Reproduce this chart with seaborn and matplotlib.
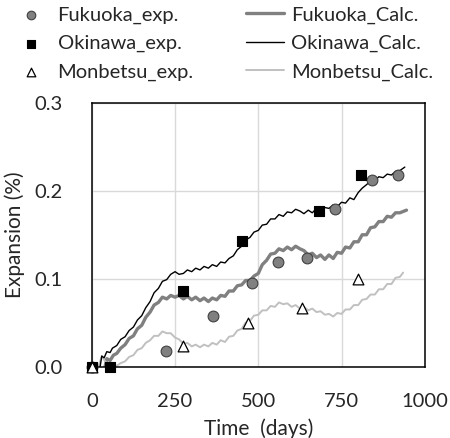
import numpy as np
import matplotlib
matplotlib.use('Agg')
import matplotlib.pyplot as plt
import pandas as pd
import seaborn as sns

# experimental points
fuk_exp_days = [0, 223, 364, 481, 558, 645, 730, 840, 920]
fuk_exp_vals = [0.0, 0.018, 0.058, 0.095, 0.119, 0.124, 0.179, 0.212, 0.218]
oki_exp_days = [0, 55, 273, 452, 683, 808]
oki_exp_vals = [0.0, 0.0, 0.086, 0.143, 0.177, 0.218]
mon_exp_days = [0, 273, 468, 631, 800]
mon_exp_vals = [0.0, 0.024, 0.050, 0.067, 0.100]

# calculated curves (including their wiggle)
oki_calc_days = [25, 30, 37, 45, 55, 62, 75, 87, 100, 112, 125, 137, 150, 162, 175, 187, 200, 212,
                 225, 237, 250, 262, 275, 287, 300, 312, 325, 337, 350, 362, 375, 387, 400, 412,
                 425, 437, 450, 462, 475, 487, 500, 512, 525, 537, 550, 562, 575, 587, 600, 612,
                 625, 637, 650, 662, 675, 687, 700, 712, 725, 737, 750, 762, 775, 787, 800, 812,
                 825, 837, 850, 862, 875, 887, 900, 912, 925, 940]
oki_calc_vals = [0.000, 0.012, 0.010, 0.017, 0.016, 0.021, 0.024, 0.031, 0.034, 0.041, 0.045,
                 0.053, 0.058, 0.067, 0.074, 0.084, 0.089, 0.097, 0.099, 0.105, 0.108, 0.105,
                 0.106, 0.110, 0.108, 0.112, 0.110, 0.114, 0.112, 0.116, 0.114, 0.119, 0.118,
                 0.123, 0.126, 0.133, 0.137, 0.144, 0.147, 0.153, 0.155, 0.161, 0.162, 0.168,
                 0.168, 0.173, 0.171, 0.176, 0.175, 0.179, 0.177, 0.174, 0.178, 0.175, 0.180,
                 0.178, 0.181, 0.180, 0.184, 0.182, 0.187, 0.186, 0.192, 0.190, 0.198, 0.203,
                 0.207, 0.211, 0.212, 0.216, 0.215, 0.219, 0.218, 0.222, 0.223, 0.227]
fuk_calc_days = [40, 45, 55, 65, 75, 87, 100, 112, 125, 137, 150, 162, 175, 187, 200, 212, 225,
                 237, 250, 262, 275, 287, 300, 312, 325, 337, 350, 362, 375, 387, 400, 412, 425,
                 437, 450, 462, 475, 487, 500, 512, 525, 537, 550, 562, 575, 587, 600, 612, 625,
                 637, 650, 662, 675, 687, 700, 712, 725, 737, 750, 762, 775, 787, 800, 812, 825,
                 837, 850, 862, 875, 887, 900, 912, 925, 945]
fuk_calc_vals = [0.000, 0.009, 0.007, 0.013, 0.015, 0.021, 0.025, 0.032, 0.035, 0.043, 0.047,
                 0.056, 0.062, 0.070, 0.073, 0.079, 0.077, 0.081, 0.079, 0.081, 0.077, 0.080,
                 0.076, 0.079, 0.075, 0.078, 0.074, 0.078, 0.076, 0.081, 0.080, 0.086, 0.086,
                 0.092, 0.093, 0.098, 0.098, 0.103, 0.106, 0.116, 0.121, 0.128, 0.129, 0.134,
                 0.132, 0.136, 0.133, 0.137, 0.134, 0.132, 0.127, 0.129, 0.124, 0.127, 0.122,
                 0.127, 0.123, 0.130, 0.129, 0.136, 0.135, 0.142, 0.142, 0.150, 0.150, 0.158,
                 0.159, 0.165, 0.165, 0.171, 0.170, 0.175, 0.175, 0.178]
mon_calc_days = [20, 30, 40, 50, 60, 75, 87, 100, 112, 125, 137, 150, 162, 175, 187, 200, 212,
                 225, 237, 250, 262, 275, 287, 300, 312, 325, 337, 350, 362, 375, 387, 400, 412,
                 425, 437, 450, 462, 475, 487, 500, 512, 525, 537, 550, 562, 575, 587, 600, 612,
                 625, 637, 650, 662, 675, 687, 700, 712, 725, 737, 750, 762, 775, 787, 800, 812,
                 825, 837, 850, 862, 875, 887, 900, 912, 925, 935]
mon_calc_vals = [0.000, 0.012, 0.006, 0.003, 0.000, 0.001, 0.004, 0.006, 0.011, 0.013, 0.019,
                 0.021, 0.027, 0.030, 0.035, 0.035, 0.040, 0.038, 0.038, 0.033, 0.031, 0.026,
                 0.027, 0.023, 0.025, 0.022, 0.025, 0.023, 0.027, 0.025, 0.030, 0.028, 0.034,
                 0.035, 0.041, 0.043, 0.050, 0.052, 0.058, 0.059, 0.064, 0.064, 0.069, 0.068,
                 0.073, 0.071, 0.072, 0.068, 0.070, 0.066, 0.068, 0.064, 0.066, 0.062, 0.063,
                 0.059, 0.060, 0.057, 0.061, 0.060, 0.065, 0.065, 0.070, 0.070, 0.076, 0.077,
                 0.082, 0.082, 0.088, 0.088, 0.094, 0.094, 0.101, 0.102, 0.107]

x_ticks = [0, 250, 500, 750, 1000]
y_ticks = [0.0, 0.1, 0.2, 0.3]
y_ticklabels = ['0.0', '0.1', '0.2', '0.3']

sns.set_style('white')
plt.rcParams['font.family'] = ['Lato', 'DejaVu Sans']

fig = plt.figure(figsize=(4.5, 4.38), dpi=100)
ax = fig.add_axes([0.204, 0.163, 0.74, 0.602])

sns.lineplot(x=fuk_calc_days, y=fuk_calc_vals, ax=ax, color='#808080', linewidth=2.4,
             sort=False, estimator=None, label='Fukuoka_Calc.', zorder=2)
sns.lineplot(x=oki_calc_days, y=oki_calc_vals, ax=ax, color='black', linewidth=1.0,
             sort=False, estimator=None, label='Okinawa_Calc.', zorder=3)
sns.lineplot(x=mon_calc_days, y=mon_calc_vals, ax=ax, color='#c0c0c0', linewidth=1.4,
             sort=False, estimator=None, label='Monbetsu_Calc.', zorder=2)

sns.scatterplot(x=fuk_exp_days, y=fuk_exp_vals, ax=ax, marker='o', s=60, color='#808080',
                edgecolor='#404040', linewidth=0.8, label='Fukuoka_exp.', zorder=4, clip_on=False)
sns.scatterplot(x=oki_exp_days, y=oki_exp_vals, ax=ax, marker='s', s=55, color='black',
                edgecolor='black', linewidth=0.8, label='Okinawa_exp.', zorder=4, clip_on=False)
sns.scatterplot(x=mon_exp_days, y=mon_exp_vals, ax=ax, marker='^', s=60, color='white',
                edgecolor='black', linewidth=0.9, label='Monbetsu_exp.', zorder=5, clip_on=False)

ax.set_xlim(0, 1000)
ax.set_ylim(0, 0.3)
ax.set_xticks(x_ticks)
ax.set_yticks(y_ticks)
ax.set_yticklabels(y_ticklabels)
ax.tick_params(axis='x', length=0, labelsize=14.5, pad=19)
ax.tick_params(axis='y', length=0, labelsize=14.5, pad=21)
ax.grid(True, color='#d9d9d9', linewidth=1)
for s in ax.spines.values():
    s.set_color('black')
    s.set_linewidth(1.1)
ax.set_xlabel('Time  (days)', fontsize=15)
ax.set_ylabel('Expansion (%)', fontsize=15)
ax.xaxis.set_label_coords(0.5, -0.197)
ax.yaxis.set_label_coords(-0.2, 0.5)

handles, labels = ax.get_legend_handles_labels()
ax.get_legend().remove()
order = [3, 4, 5, 0, 1, 2]
fig.legend([handles[i] for i in order], [labels[i] for i in order], ncol=2,
           loc='upper left', bbox_to_anchor=(-0.013, 1.027), frameon=False, fontsize=14.5,
           handlelength=1.9, columnspacing=2.6, labelspacing=0.55, handletextpad=0.35,
           markerscale=0.8)

plt.savefig('out.png', dpi=100)
